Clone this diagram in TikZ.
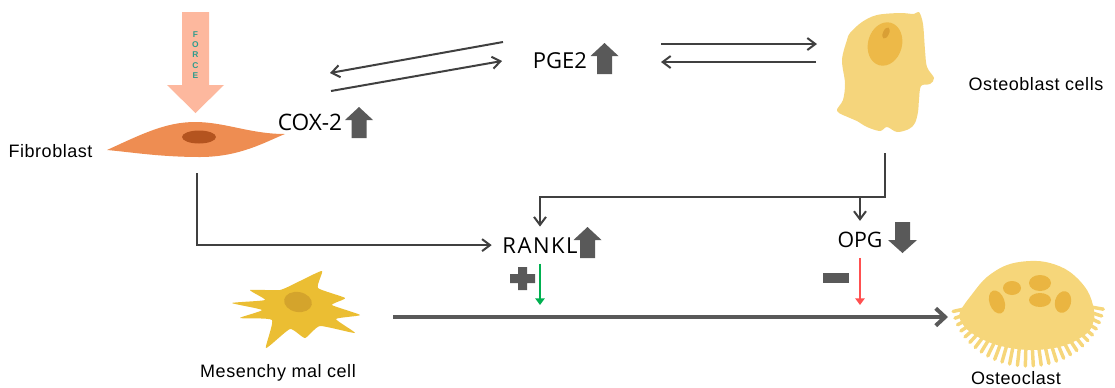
\documentclass[tikz,border=0pt]{standalone}
\usepackage{fontspec}
\setmainfont[LetterSpace=3]{Liberation Sans}
\newfontfamily\markfont{Open Sans}
\newfontfamily\markwide[LetterSpace=7]{Open Sans}
\usetikzlibrary{arrows.meta}

\definecolor{forcecol}{HTML}{FDB89E}
\definecolor{forcetxt}{HTML}{2E9C8C}
\definecolor{fibcol}{HTML}{EE8D52}
\definecolor{fibnuc}{HTML}{B4541F}
\definecolor{oblcol}{HTML}{F5D57C}
\definecolor{oblnuc}{HTML}{EDB948}
\definecolor{oblspot}{HTML}{D99F35}
\definecolor{mescol}{HTML}{EBBE33}
\definecolor{mesnuc}{HTML}{D4A42C}
\definecolor{oclcol}{HTML}{F6D67A}
\definecolor{oclnuc}{HTML}{EAB541}
\definecolor{markgrey}{HTML}{595959}
\definecolor{linegrey}{HTML}{404040}
\definecolor{upgreen}{HTML}{00B050}
\definecolor{downred}{HTML}{FF5050}

\tikzset{
  upmark/.pic={\fill[markgrey] (-7.5,0) -- (-7.5,-18) -- (-14,-18) -- (0,-31) -- (14,-18) -- (7.5,-18) -- (7.5,0) -- cycle;},
  downmark/.pic={\fill[markgrey] (-7.5,0) -- (-7.5,18) -- (-14.5,18) -- (0,31) -- (14.5,18) -- (7.5,18) -- (7.5,0) -- cycle;}
}

\begin{document}
\begin{tikzpicture}[x=0.75pt, y=-0.75pt,
  celllabel/.style={font=\fontsize{13.5}{16}\selectfont, anchor=base},
  factor/.style={font=\markfont\fontsize{17}{20}\selectfont, anchor=base, inner sep=2pt, outer sep=6pt},
  conn/.style={draw=linegrey, line width=1.5pt, -{Straight Barb[length=6pt,width=9pt]}},
  effect/.style={line width=1.2pt, shorten >=9pt, -{Triangle[length=5pt,width=7pt]}}]
\useasboundingbox (0,0) rectangle (1115,387);

% force on the fibroblast
\fill[forcecol] (182,12) -- (209,12) -- (209,85) -- (224,85) -- (195.5,113) -- (167,85) -- (182,85) -- cycle;
\node[font=\bfseries\fontsize{6.3}{7.7}\selectfont, text=forcetxt, align=center] (force) at (195.5,55) {F\\O\\R\\C\\E};

% fibroblast
\fill[fibcol] (107,150) .. controls (140,135) and (165,122) .. (195,122) .. controls (225,122) and (250,134) .. (285,134) .. controls (265,142) and (240,157) .. (200,157) .. controls (160,157) and (130,152) .. (107,150) -- cycle;
\fill[fibnuc] (199,137) ellipse [x radius=17, y radius=6.5];

% osteoblast
\fill[oblcol] plot[smooth cycle, tension=0.55] coordinates {(850,33) (862,22) (877,15) (900,13) (914,14) (919,12) (923,24) (925,50) (927,67) (934,78) (930,84) (921,86) (919,100) (918,112) (915,123) (909,129) (897,132) (887,127) (880,131) (867,127) (857,121) (850,118) (837,111) (843,100) (845,83) (842,60) (847,40)};
\fill[oblnuc, rotate around={-15:(885,44)}] (885,44) ellipse [x radius=17, y radius=22];
\fill[oblspot, rotate around={-25:(886,33)}] (886,33) ellipse [x radius=3, y radius=6];

% mesenchymal cell
\fill[mescol] plot[smooth cycle, tension=0.3] coordinates {(232,303) (265,300) (250,290) (280,290) (300,281) (322,271) (318,288) (345,298) (332,305) (360,315) (336,319) (355,333) (320,326) (305,338) (290,329) (266,348) (272,320) (240,318) (262,310)};
\fill[mesnuc, rotate around={-10:(298,302)}] (298,302) ellipse [x radius=14, y radius=10];

% osteoclast
\fill[oclcol] plot[smooth cycle, tension=0.6] coordinates {(960,312) (973,293) (987,277) (1007,265) (1030,261) (1050,263) (1070,272) (1087,290) (1094,310) (1093,323) (1086,334) (1063,346) (1030,350) (997,345) (973,334) (962,323)};
\begin{scope}[shift={(1028,300)}]
\foreach \a [evaluate=\a as \rx using {70+3*mod(\a,3)}, evaluate=\a as \ry using {58+4*mod(\a,3)}] in {8,14,...,172}
  \draw[oclcol, line width=2.6pt, line cap=round] (\a:62 and 48) -- (\a:{\rx} and {\ry}); % fringe
\end{scope}
\fill[oclnuc, rotate around={20:(997,302)}] (997,302) ellipse [x radius=7.5, y radius=12];
\fill[oclnuc] (1012,288) ellipse [x radius=9, y radius=7];
\fill[oclnuc] (1040,283) ellipse [x radius=11, y radius=8];
\fill[oclnuc] (1040,300) ellipse [x radius=11, y radius=7];
\fill[oclnuc, rotate around={-15:(1063,302)}] (1063,302) ellipse [x radius=8, y radius=11];

% labels
\node[celllabel] (fib) at (50.5,157) {Fibroblast};
\node[celllabel] (obl) at (1036,90) {Osteoblast cells};
\node[celllabel] (mes) at (278,377) {Mesenchy mal cell};
\node[celllabel] (ocl) at (1016,384) {Osteoclast};

\node[factor] (cox) at (310,130) {COX-2};
\pic at (359,138) {upmark};
\node[factor, font=\markfont\fontsize{16.5}{20}\selectfont] (pge) at (560,68) {PGE2};
\pic at (604.5,74) {upmark};
\node[factor, font=\markwide\fontsize{16.5}{20}\selectfont] (rankl) at (540,253) {RANKL};
\pic at (587.5,258) {upmark};
\node[factor, font=\markfont\fontsize{16}{20}\selectfont] (opg) at (860,247) {OPG};
\pic at (902.5,222) {downmark};

\fill[markgrey] (510,274) rectangle (535,283) (518,267) rectangle (527,290); % plus
\fill[markgrey] (823,273) rectangle (849,283); % minus

% arrows
\coordinate (pge-a) at (503,42); \coordinate (cox-a) at (330,73);
\coordinate (cox-b) at (331,91); \coordinate (pge-b) at (502,61);
\coordinate (pge-c) at (661,44); \coordinate (obl-c) at (817,44);
\coordinate (obl-d) at (816,62); \coordinate (pge-d) at (661,62);
\coordinate (fib-out) at (197,173);
\coordinate (obl-out) at (885,153);
\coordinate (split) at (885,197);
\coordinate (mes-out) at (393,317);
\coordinate (ocl-in) at (948,317);

\draw[conn] (pge-a) -- (cox-a);
\draw[conn] (cox-b) -- (pge-b);
\draw[conn] (pge-c) -- (obl-c);
\draw[conn] (obl-d) -- (pge-d);
\draw[conn] (fib-out) |- (rankl);
\draw[conn] (obl-out) -- (split) -| (rankl);
\draw[conn] (split -| opg) -- (opg);
\draw[effect, upgreen] (rankl.south) -- (rankl.south |- mes-out);
\draw[effect, downred] (opg.south) -- (opg.south |- ocl-in);
\draw[draw=markgrey, line width=3pt, -{Straight Barb[length=7pt,width=13pt]}] (mes-out) -- (ocl-in); % differentiation
\end{tikzpicture}
\end{document}
